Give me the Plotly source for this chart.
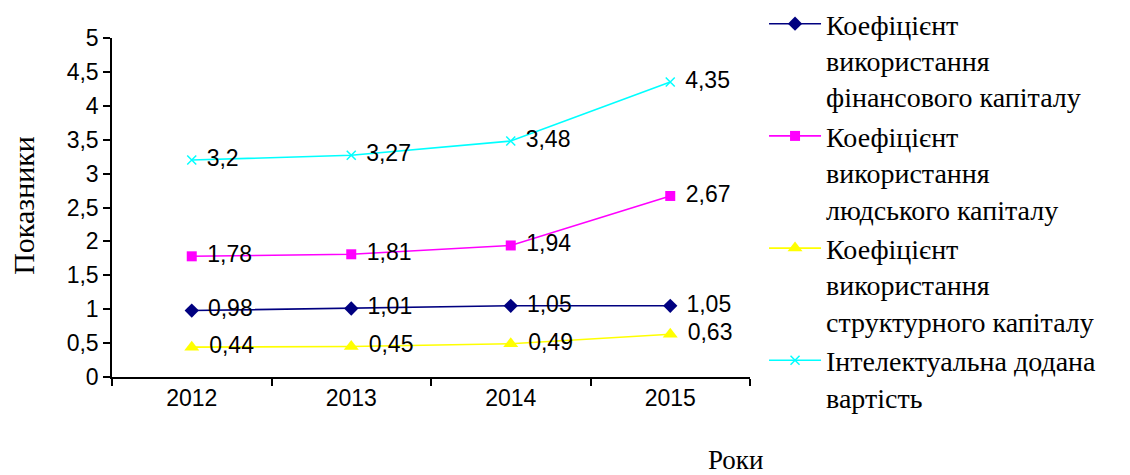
import plotly.graph_objects as go

years = ["2012", "2013", "2014", "2015"]
fin_capital = [0.98, 1.01, 1.05, 1.05]
human_capital = [1.78, 1.81, 1.94, 2.67]
struct_capital = [0.44, 0.45, 0.49, 0.63]
intel_value = [3.2, 3.27, 3.48, 4.35]

names = [
    "Коефіцієнт<br>використання<br>фінансового капіталу",
    "Коефіцієнт<br>використання<br>людського капіталу",
    "Коефіцієнт<br>використання<br>структурного капіталу",
    "Інтелектуальна додана<br>вартість",
]
series = [fin_capital, human_capital, struct_capital, intel_value]
colors = ["#000080", "#FF00FF", "#FFFF00", "#00FFFF"]
symbols = ["diamond", "square", "triangle-up", "x-thin"]
sizes = [11, 10, 13, 9]

def fmt(v):
    return "\u00a0\u200a" + str(v).replace(".", ",")

fig = go.Figure()
for i, (name, vals, c, s, sz) in enumerate(zip(names, series, colors, symbols, sizes)):
    marker = dict(color=c, symbol=s, size=sz)
    if s == "x-thin":
        marker["line"] = dict(color=c, width=1.5)
    fig.add_trace(go.Scatter(
        x=years, y=vals, name=name, mode="lines+markers+text",
        legendgroup=f"g{i}",
        line=dict(color=c, width=1.6), marker=marker,
        text=[fmt(v) for v in vals], textposition="middle right",
        textfont=dict(family="Liberation Sans", size=23, color="black"),
        cliponaxis=False,
    ))

fig.update_layout(
    width=1122, height=467,
    margin=dict(l=104, r=380, t=30, b=98, autoexpand=False),
    paper_bgcolor="white", plot_bgcolor="white",
    separators=", ",
    font=dict(family="Liberation Sans", size=23, color="black"),
    showlegend=True,
    legend=dict(
        x=1.022, xref="paper", y=1.115, yref="paper",
        xanchor="left", yanchor="top",
        font=dict(family="Liberation Serif", size=28, color="black"),
        valign="top", tracegroupgap=0, itemwidth=52, maxheight=800,
        bgcolor="rgba(0,0,0,0)",
    ),
    xaxis=dict(
        type="category", range=[-0.5, 3.5], tickson="boundaries",
        showline=True, linecolor="black", linewidth=1.5,
        ticks="outside", ticklen=7, tickcolor="black", tickwidth=1.5,
        showgrid=False, zeroline=False,
        tickfont=dict(family="Liberation Sans", size=23),
    ),
    yaxis=dict(
        range=[0, 5], dtick=0.5, tick0=0,
        showline=True, linecolor="black", linewidth=1.5,
        ticks="outside", ticklen=7, tickcolor="black", tickwidth=1.5,
        showgrid=False, zeroline=False,
        tickfont=dict(family="Liberation Sans", size=23),
    ),
    annotations=[
        dict(text="Показники", xref="paper", yref="paper", x=-0.14, y=0.507,
             textangle=-90, showarrow=False, xanchor="center", yanchor="middle",
             font=dict(family="Liberation Serif", size=30, color="black")),
        dict(text="Роки", xref="paper", yref="paper", x=0.978, y=-0.245,
             showarrow=False, xanchor="center", yanchor="middle",
             font=dict(family="Liberation Serif", size=27, color="black")),
    ],
)

fig.write_html("out.html")
